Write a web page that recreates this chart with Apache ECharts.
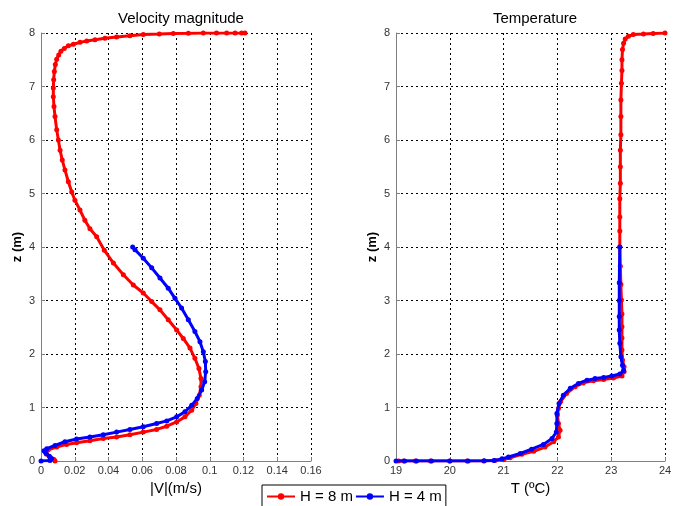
<!DOCTYPE html>
<html>
<head>
<meta charset="utf-8">
<script src="https://cdn.jsdelivr.net/npm/echarts@6/dist/echarts.min.js"></script>
<style>
  html, body { margin: 0; padding: 0; background: #fff; }
  #chart { width: 679px; height: 506px; }
</style>
</head>
<body>
<div id="chart"></div>
<script>
// Vertical profiles: height z (m) against velocity magnitude and temperature,
// for a domain height of H = 8 m and H = 4 m.

const seriesNames = ['H = 8 m', 'H = 4 m'];

// Velocity magnitude |V| (m/s) and the heights z (m) where it was sampled, H = 8 m
const velH8 = [0.0083, 0.0077, 0.0053, 0.0034, 0.0024, 0.0043, 0.0093, 0.0152, 0.0211, 0.029,
  0.0369, 0.0448, 0.0527, 0.0606, 0.0685, 0.0745, 0.0804, 0.0853, 0.0893, 0.0918,
  0.0938, 0.0948, 0.0948, 0.0936, 0.0912, 0.0883, 0.0843, 0.0804, 0.0754, 0.0705,
  0.0656, 0.0606, 0.0547, 0.0488, 0.0429, 0.0375, 0.033, 0.029, 0.026, 0.0231,
  0.0201, 0.0182, 0.0162, 0.0142, 0.0126, 0.0113, 0.0103, 0.0093, 0.0083, 0.0077,
  0.0073, 0.0073, 0.0075, 0.0079, 0.0085, 0.0093, 0.0105, 0.0118, 0.0138, 0.0162,
  0.0192, 0.0231, 0.0271, 0.032, 0.0379, 0.0448, 0.0527, 0.0606, 0.0701, 0.0784,
  0.0873, 0.0962, 0.104, 0.110, 0.115, 0.1189, 0.1209];
const zVelH8 = [0.0, 0.03, 0.075, 0.125, 0.17, 0.21, 0.26, 0.31, 0.34, 0.38,
  0.42, 0.45, 0.49, 0.54, 0.59, 0.65, 0.73, 0.825, 0.95, 1.075,
  1.23, 1.39, 1.54, 1.73, 1.92, 2.11, 2.29, 2.45, 2.64, 2.825,
  2.98, 3.14, 3.29, 3.48, 3.7, 3.94, 4.19, 4.34, 4.5, 4.69,
  4.875, 5.03, 5.22, 5.44, 5.625, 5.81, 6.0, 6.19, 6.44, 6.625,
  6.81, 6.97, 7.125, 7.28, 7.41, 7.51, 7.59, 7.66, 7.71, 7.76,
  7.79, 7.825, 7.85, 7.875, 7.9, 7.925, 7.95, 7.97, 7.98, 7.99,
  7.994, 8.0, 8.0, 8.0, 8.0, 8.0, 8.0];

// Velocity magnitude, H = 4 m
const velH4 = [0.0, 0.0053, 0.0063, 0.0049, 0.003, 0.0018, 0.0034, 0.0083, 0.0142, 0.0211,
  0.029, 0.0369, 0.0448, 0.0527, 0.0606, 0.0685, 0.0745, 0.0804, 0.0853, 0.0893,
  0.0926, 0.0952, 0.097, 0.0976, 0.0974, 0.0962, 0.0942, 0.0912, 0.0873, 0.0833,
  0.0794, 0.0754, 0.0705, 0.0656, 0.0606, 0.0557, 0.0543];
const zVelH4 = [0.0, 0.01, 0.045, 0.09, 0.14, 0.19, 0.23, 0.29, 0.36, 0.41,
  0.45, 0.49, 0.54, 0.59, 0.64, 0.70, 0.75, 0.825, 0.92, 1.04,
  1.17, 1.325, 1.48, 1.67, 1.86, 2.04, 2.23, 2.42, 2.64, 2.86,
  3.04, 3.23, 3.42, 3.61, 3.79, 3.95, 4.0];

// Temperature T (degC), H = 8 m
const tempH8 = [19.05, 19.14, 19.36, 19.64, 20.0, 20.32, 20.63, 20.84, 21.0, 21.12,
  21.34, 21.56, 21.77, 21.93, 22.02, 22.05, 22.02, 22.0, 22.02, 22.06,
  22.17, 22.33, 22.48, 22.67, 22.86, 23.04, 23.2, 23.24, 23.24, 23.21,
  23.2, 23.2, 23.2, 23.2, 23.19, 23.18, 23.17, 23.16, 23.16, 23.16,
  23.16, 23.17, 23.17, 23.17, 23.18, 23.18, 23.18, 23.19, 23.2, 23.2,
  23.21, 23.23, 23.26, 23.32, 23.41, 23.6, 23.78, 24.0];
const zTempH8 = [0.0, 0.0, 0.0, 0.0, 0.0, 0.0, 0.0, 0.01, 0.025, 0.06,
  0.125, 0.18, 0.26, 0.36, 0.45, 0.575, 0.7, 0.86, 0.98, 1.11,
  1.26, 1.39, 1.46, 1.5, 1.525, 1.55, 1.59, 1.67, 1.76, 1.89,
  2.075, 2.3, 2.51, 2.75, 3.01, 3.3, 3.64, 4.0, 4.3, 4.56,
  4.9, 5.19, 5.5, 5.81, 6.1, 6.44, 6.75, 7.06, 7.3, 7.5,
  7.69, 7.81, 7.89, 7.94, 7.97, 7.98, 7.99, 8.0];

// Temperature, H = 4 m
const tempH4 = [19.0, 19.16, 19.38, 19.66, 20.0, 20.34, 20.64, 20.82, 20.97, 21.09,
  21.31, 21.52, 21.74, 21.9, 21.98, 21.99, 21.99, 22.03, 22.11, 22.24,
  22.39, 22.55, 22.7, 22.86, 23.01, 23.16, 23.23, 23.21, 23.18, 23.16,
  23.15, 23.15, 23.15, 23.15, 23.16];
const zTempH4 = [0.0, 0.0, 0.0, 0.0, 0.0, 0.0, 0.005, 0.01, 0.04, 0.075,
  0.14, 0.22, 0.31, 0.42, 0.54, 0.7, 0.89, 1.075, 1.23, 1.36,
  1.45, 1.51, 1.54, 1.56, 1.59, 1.625, 1.69, 1.79, 1.95, 2.2,
  2.45, 2.7, 3.0, 3.33, 4.0];

// Axis ranges and tick steps
const velTicks = { min: 0, max: 0.16, step: 0.02 };
const tempTicks = { min: 19, max: 24, step: 1 };
const zTicks = { min: 0, max: 8, step: 1 };

const pairs = (xs, ys) => xs.map((x, i) => [x, ys[i]]);

const FONT = '"Liberation Sans", Arial, Helvetica, sans-serif';
const RED = '#ff0000';
const BLUE = '#0000ff';

function valueAxis(range, gridIndex, name, isY) {
  return {
    type: 'value',
    gridIndex,
    min: range.min,
    max: range.max,
    interval: range.step,
    name,
    nameLocation: 'middle',
    nameGap: isY ? 17 : 11,
    nameTextStyle: isY
      ? { fontFamily: FONT, fontSize: 13, fontWeight: 'bold', color: '#000' }
      : { fontFamily: FONT, fontSize: 15, color: '#000' },
    axisLine: { show: true, onZero: false, lineStyle: { color: '#7f7f7f', width: 1 } },
    axisTick: { show: true, inside: true, length: 4, lineStyle: { color: '#7f7f7f' } },
    axisLabel: { fontFamily: FONT, fontSize: 11, color: '#333', margin: isY ? 6 : 4 },
    splitLine: { show: true, lineStyle: { color: '#000', width: 1, type: [2, 3] } }
  };
}

function profile(name, color, data, xi) {
  return {
    name,
    type: 'line',
    xAxisIndex: xi,
    yAxisIndex: xi,
    data,
    symbol: 'circle',
    symbolSize: 5,
    showSymbol: true,
    smooth: false,
    animation: false,
    itemStyle: { color },
    lineStyle: { color, width: 3 },
    z: color === BLUE ? 3 : 2
  };
}

const chart = echarts.init(document.getElementById('chart'), null, { renderer: 'canvas' });
chart.setOption({
  backgroundColor: '#fff',
  animation: false,
  title: [
    { text: 'Velocity magnitude', left: 176, top: 6, textAlign: 'center',
      textStyle: { fontFamily: FONT, fontSize: 15, fontWeight: 'normal', color: '#000' } },
    { text: 'Temperature', left: 530, top: 6, textAlign: 'center',
      textStyle: { fontFamily: FONT, fontSize: 15, fontWeight: 'normal', color: '#000' } }
  ],
  grid: [
    { left: 41, top: 33, width: 270, height: 428 },
    { left: 396, top: 33, width: 269, height: 428 }
  ],
  xAxis: [
    valueAxis(velTicks, 0, '|V|(m/s)', false),
    valueAxis(tempTicks, 1, 'T (ºC)', false)
  ],
  yAxis: [
    valueAxis(zTicks, 0, 'z (m)', true),
    valueAxis(zTicks, 1, 'z (m)', true)
  ],
  legend: {
    data: seriesNames,
    left: 262,
    top: 485,
    orient: 'horizontal',
    itemWidth: 28,
    itemHeight: 8,
    itemGap: 2,
    padding: [4, 4, 4, 4],
    borderColor: '#000',
    borderWidth: 1,
    backgroundColor: '#fff',
    textStyle: { fontFamily: FONT, fontSize: 15, color: '#000' }
  },
  series: [
    profile(seriesNames[0], RED, pairs(velH8, zVelH8), 0),
    profile(seriesNames[1], BLUE, pairs(velH4, zVelH4), 0),
    profile(seriesNames[0], RED, pairs(tempH8, zTempH8), 1),
    profile(seriesNames[1], BLUE, pairs(tempH4, zTempH4), 1)
  ]
});
</script>
</body>
</html>
